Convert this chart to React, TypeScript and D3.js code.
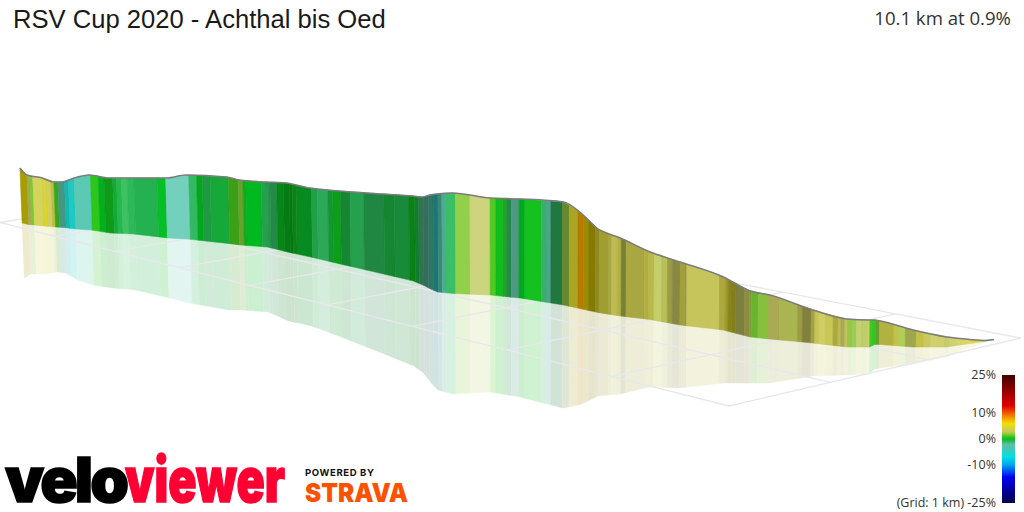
import React, { useRef, useEffect } from 'react';
import * as d3 from 'd3';

const title = "RSV Cup 2020 - Achthal bis Oed";
const summary = "10.1 km at 0.9%";

// Profile stations: distance along the segment, wall height and position of the ground in the view
const stationKm = [0, 0.07, 0.23, 0.35, 0.44, 0.56, 0.72, 0.92, 1.16, 1.52, 1.72, 2.14, 2.27, 2.55, 2.76, 3.0, 3.31, 3.76, 4.07, 4.17, 4.25, 4.32, 4.48, 4.87, 5.18, 5.63, 5.8, 5.99, 6.22, 6.53, 6.84, 7.29, 7.57, 7.77, 8.22, 8.57, 8.81, 8.86, 8.92, 9.26, 9.61, 9.85, 9.99, 10.1];
const stationElevation = [55, 49.5, 48, 45, 45.5, 51, 55, 55, 56, 60, 64, 66.5, 65, 65, 69, 69, 73, 80, 85, 88, 94, 98, 100.5, 97, 99, 103, 96.5, 83.5, 78, 67.5, 63, 53, 46, 44, 33, 28, 27, 24.5, 23.5, 17, 10, 4, 1, 0];
const stationGround = [3, 4.5, 6, 7, 7.5, 9, 10, 13, 14, 18, 19, 23.5, 25, 27, 32, 37, 44, 54, 61, 65, 69, 72, 73.5, 75, 78, 85, 88.5, 92.5, 96, 99.5, 105, 110, 117, 119, 123, 127, 127, 124.5, 124.5, 127, 127, 123.5, 121.5, 119.5];

// Coloured bands: where each one ends, its gradient in % and how lit the face is (-1 dark, 1 pale)
const bandEnd = [
    0.07, 0.1, 0.13, 0.23, 0.27, 0.32, 0.35, 0.39, 0.46, 0.5,
    0.56, 0.73, 0.81, 0.87, 0.96, 1.0, 1.05, 1.11, 1.18, 1.42,
    1.51, 1.75, 1.83, 1.89, 1.97, 2.16, 2.26, 2.31, 2.34, 2.5,
    2.56, 2.59, 2.66, 2.73, 2.79, 2.82, 2.86, 3.02, 3.08, 3.19,
    3.24, 3.32, 3.42, 3.56, 3.77, 3.88, 4.03, 4.09, 4.13, 4.18,
    4.23, 4.28, 4.33, 4.37, 4.41, 4.51, 4.66, 4.87, 4.93, 5.0,
    5.04, 5.09, 5.17, 5.23, 5.4, 5.45, 5.5, 5.62, 5.69, 5.78,
    5.84, 5.89, 5.96, 6.0, 6.1, 6.13, 6.19, 6.23, 6.28, 6.47,
    6.51, 6.57, 6.65, 6.71, 6.76, 6.84, 6.89, 6.91, 7.25, 7.31,
    7.34, 7.38, 7.42, 7.51, 7.56, 7.58, 7.65, 7.76, 7.87, 8.06,
    8.11, 8.2, 8.24, 8.28, 8.35, 8.43, 8.48, 8.51, 8.55, 8.58,
    8.63, 8.67, 8.73, 8.78, 8.81, 8.83, 8.87, 8.91, 9.06, 9.1,
    9.18, 9.29, 9.37, 9.44, 9.59, 9.64, 9.71, 9.76, 9.88, 9.99,
    10.1,
];
const bandGrade = [
    6, 3, 1.7, 3.7, 4.5, 3.5, 3.5, 1, -2.4, -6,
    -5.5, -3.2, 0.7, 0, 0.3, -0.5, -0.7, -0.7, -0.9, -0.8,
    -0.1, -3, -1, 0, -0.8, -0.5, 1.1, 1.8, 0.3, 0,
    -0.9, -0.9, -1, 0.1, 0.1, 0.1, 0.3, -0.2, -0.8, -1,
    -0.5, 0.2, -0.6, -0.9, -0.9, -0.6, -0.7, 0.2, -0.5, -1.5,
    -2, -3, -5, -3, -2.5, -0.9, 1.9, 2.8, 1.2, 0.2,
    0.4, -1, -2, 0, 0.3, -1.2, -2.5, -1, 2.2, 4.5,
    7.8, 6.3, 6, 4.5, 4, 3.5, 3.3, 3.5, 2.7, 3.5,
    3.7, 3.5, 2.8, 2.9, 3.2, 3, 3.6, 3.8, 3.1, 3.6,
    4.3, 4.7, 4.5, 2.9, 3.2, 2.4, 1.7, 2, 3, 2.8,
    3.2, 3.2, 3.3, 3.4, 3.3, 3.3, 3.5, 3.4, 3, 2.9,
    2.3, 1.9, 2.8, 2.6, 3.1, 0.9, 0.7, 1.8, 3.7, 3.6,
    2.6, 2.8, 3.6, 3.1, 3.2, 2.9, 3.2, 3.5, 3.8, 4.3,
    1,
];
const bandLight = [
    -0.3, -0.16, 0, 0.1, 0, 0.05, -0.08, -0.15, -0.22, -0.15,
    -0.05, 0.08, 0, -0.08, -0.2, -0.1, 0, 0.12, 0, -0.05,
    0, 0.2, 0.02, -0.12, -0.18, -0.1, -0.2, -0.2, -0.12, -0.04,
    -0.13, -0.18, -0.25, -0.3, -0.36, -0.38, -0.33, -0.27, -0.14, -0.08,
    -0.2, -0.18, -0.28, -0.13, -0.27, -0.28, -0.26, -0.33, -0.33, -0.38,
    -0.43, -0.4, -0.42, -0.3, -0.12, 0.07, 0.08, 0.22, 0, -0.02,
    -0.12, -0.25, -0.2, -0.12, 0, -0.05, -0.15, -0.35, -0.33, -0.22,
    -0.26, -0.35, -0.45, -0.35, -0.24, -0.18, -0.07, -0.13, -0.36, -0.18,
    -0.15, -0.1, 0.1, -0.05, -0.23, -0.32, -0.22, -0.25, -0.02, -0.18,
    -0.27, -0.38, -0.4, -0.36, -0.3, -0.22, -0.12, -0.06, -0.15, -0.1,
    -0.23, -0.36, -0.2, -0.03, 0.07, -0.02, -0.17, -0.07, -0.15, -0.02,
    -0.03, 0.1, 0.13, 0.12, 0.1, 0.03, 0.03, -0.22, -0.14, -0.06,
    0.02, -0.17, -0.06, 0, 0.12, 0.08, 0.13, 0.18, 0.17, 0.1,
    0.35,
];

// Gradient colour scale shown in the legend
const gradeStops = [-25, -20, -15, -10, -7, -4, -2, -1, 0, 1, 2, 3, 5, 6, 8, 10, 13, 18, 25];
const gradeColors = ["#000048", "#0000a0", "#0000f0", "#00a8f0", "#00e0e0", "#40c8b8", "#60c0a0", "#30b860", "#00c020", "#40c818", "#90cc40", "#c8c860", "#e0d820", "#f0e000", "#f8a000", "#f06000", "#e00000", "#a00000", "#400000"];
const legendTicks = [25, 10, 0, -10];

// Ground grid, in km cells
const gridLong = d3.range(0, 10);
const gridShort = d3.range(0, 4);

// Maps the unit square on to four corners in the view
function makeHomography(p0: number[], p1: number[], p2: number[], p3: number[]) {
    const dx1 = p1[0] - p2[0], dx2 = p3[0] - p2[0], sx = p0[0] - p1[0] + p2[0] - p3[0];
    const dy1 = p1[1] - p2[1], dy2 = p3[1] - p2[1], sy = p0[1] - p1[1] + p2[1] - p3[1];
    const det = dx1 * dy2 - dx2 * dy1;
    const g = (sx * dy2 - dx2 * sy) / det;
    const h = (dx1 * sy - sx * dy1) / det;
    const a = p1[0] - p0[0] + g * p1[0], b = p3[0] - p0[0] + h * p3[0];
    const d = p1[1] - p0[1] + g * p1[1], e = p3[1] - p0[1] + h * p3[1];
    return (u: number, v: number): [number, number] => {
        const w = g * u + h * v + 1;
        return [(a * u + b * v + p0[0]) / w, (d * u + e * v + p0[1]) / w];
    };
}

export default function App() {
    const svgRef = useRef<SVGSVGElement>(null);

    useEffect(() => {
        if (!svgRef.current) return;
        const svg = d3.select(svgRef.current);
        svg.selectAll("*").remove();

        const x = d3.scaleLinear().domain([0, 10.1]).range([21, 994]);
        const ground = d3.scaleLinear().domain([0, 130]).range([220, 350]);
        const wallHeight = d3.scaleLinear().domain([0, 100]).range([0, 100]);
        const tilt = d3.scaleLinear().domain([0, 5, 10.1]).range([0.04, 0, -0.01]);
        const groundAt = d3.scaleLinear().domain(stationKm).range(stationGround);
        const elevationAt = d3.scaleLinear().domain(stationKm).range(stationElevation);
        const gradeColor = d3.scaleLinear<string>().domain(gradeStops).range(gradeColors);

        const shade = (grade: number, light: number) => {
            const base = gradeColor(grade);
            return light >= 0
                ? d3.interpolateRgb(base, "#ffffff")(light)
                : d3.interpolateRgb(base, "#000000")(-light);
        };

        // side: -1 top of the wall, 0 ground, 1 mirrored top
        const wallPoint = (km: number, side: number): [number, number] => {
            const h = wallHeight(elevationAt(km));
            const base = ground(groundAt(km));
            const px = x(km) + tilt(km) * h * (side + 0.5);
            return [px, base + side * h];
        };

        const bands = bandEnd.map((end, i) => {
            const start = i === 0 ? 0 : bandEnd[i - 1];
            const kms = [start, ...stationKm.filter(k => k > start && k < end), end];
            return { kms, grade: bandGrade[i], light: bandLight[i] };
        });

        const polygon = (kms: number[], from: number, to: number) =>
            d3.line()([...kms.map(k => wallPoint(k, from)), ...kms.slice().reverse().map(k => wallPoint(k, to))]) + "Z";

        // Reflection under the ground line
        svg.append("g")
            .attr("opacity", 0.2)
            .selectAll("path")
            .data(bands)
            .enter()
            .append("path")
            .attr("d", d => polygon(d.kms, 0, 1))
            .attr("fill", d => shade(d.grade, d.light))
            .attr("stroke", d => shade(d.grade, d.light))
            .attr("stroke-width", 0.4);

        // Grid
        const project = makeHomography([0, 222.5], [729, 406], [1021, 338], [226, 185]);
        const gridLine = d3.line();
        const gridG = svg.append("g")
            .attr("fill", "none")
            .attr("stroke", "#e8e8ec")
            .attr("stroke-width", 1.4);
        gridLong.forEach(u => {
            gridG.append("path").attr("d", gridLine([project(u / 9, 0), project(u / 9, 1)]));
        });
        gridShort.forEach(v => {
            gridG.append("path").attr("d", gridLine([project(0, v / 3), project(1, v / 3)]));
        });

        // Wall
        svg.append("g")
            .selectAll("path")
            .data(bands)
            .enter()
            .append("path")
            .attr("d", d => polygon(d.kms, -1, 0))
            .attr("fill", d => shade(d.grade, d.light))
            .attr("stroke", d => d3.color(shade(d.grade, d.light))!.darker(0.15).formatRgb())
            .attr("stroke-width", 0.5);

        // Profile line along the top
        svg.append("path")
            .attr("d", d3.line().curve(d3.curveMonotoneX)(stationKm.map(k => wallPoint(k, -1))))
            .attr("fill", "none")
            .attr("stroke", "#7c7c7c")
            .attr("stroke-width", 1.5);

        // Titles
        svg.append("text")
            .attr("x", 13)
            .attr("y", 28)
            .text(title)
            .style("font-family", "'Liberation Sans'")
            .style("font-size", "25.6px")
            .style("fill", "#1a1a1a");

        svg.append("text")
            .attr("x", 1011)
            .attr("y", 25)
            .attr("text-anchor", "end")
            .text(summary)
            .style("font-family", "'Open Sans'")
            .style("font-size", "18.6px")
            .style("fill", "#333");

        // Legend
        const legendY = d3.scaleLinear().domain([-25, 25]).range([503, 375]);
        const defs = svg.append("defs");
        const gradient = defs.append("linearGradient")
            .attr("id", "gradeLegend")
            .attr("x1", 0).attr("x2", 0).attr("y1", 1).attr("y2", 0);
        gradeStops.forEach((g, i) => {
            gradient.append("stop")
                .attr("offset", `${(g + 25) * 2}%`)
                .attr("stop-color", gradeColors[i]);
        });
        svg.append("rect")
            .attr("x", 1002)
            .attr("y", legendY(25))
            .attr("width", 13)
            .attr("height", legendY(-25) - legendY(25))
            .attr("fill", "url(#gradeLegend)");

        const tickStyle = (t: d3.Selection<SVGTextElement, any, any, any>) => t
            .attr("text-anchor", "end")
            .style("font-family", "'Open Sans'")
            .style("font-size", "12.5px")
            .style("fill", "#333");

        svg.selectAll(".tick")
            .data(legendTicks)
            .enter()
            .append("text")
            .attr("class", "tick")
            .attr("x", 996)
            .attr("y", d => legendY(d) + 4)
            .text(d => `${d}%`)
            .call(tickStyle);

        svg.append("text")
            .attr("x", 996)
            .attr("y", legendY(-25) + 4)
            .text("(Grid: 1 km) -25%")
            .call(tickStyle);

        // Logos
        const logo = svg.append("g").style("font-family", "Inter").style("font-weight", 900);
        logo.append("text")
            .attr("x", 5).attr("y", 502)
            .attr("textLength", 124).attr("lengthAdjust", "spacing")
            .text("velo")
            .style("font-size", "62px").style("fill", "#000")
            .style("stroke", "#000").style("stroke-width", 1.5);
        logo.append("text")
            .attr("x", 125).attr("y", 502)
            .attr("textLength", 160).attr("lengthAdjust", "spacingAndGlyphs")
            .text("viewer")
            .style("font-size", "62px").style("fill", "#ff0033")
            .style("stroke", "#ff0033").style("stroke-width", 1.5);
        logo.append("text")
            .attr("x", 305).attr("y", 476)
            .attr("textLength", 69)
            .text("POWERED BY")
            .style("font-size", "9.5px").style("font-weight", 700).style("fill", "#111");
        logo.append("text")
            .attr("x", 305).attr("y", 502)
            .attr("textLength", 103).attr("lengthAdjust", "spacingAndGlyphs")
            .text("STRAVA")
            .style("font-size", "26px").style("fill", "#fc5200");
    }, []);

    return (
        <svg ref={svgRef} width={1024} height={512} style={{ position: "absolute", left: 0, top: 0, display: "block" }} />
    );
}
